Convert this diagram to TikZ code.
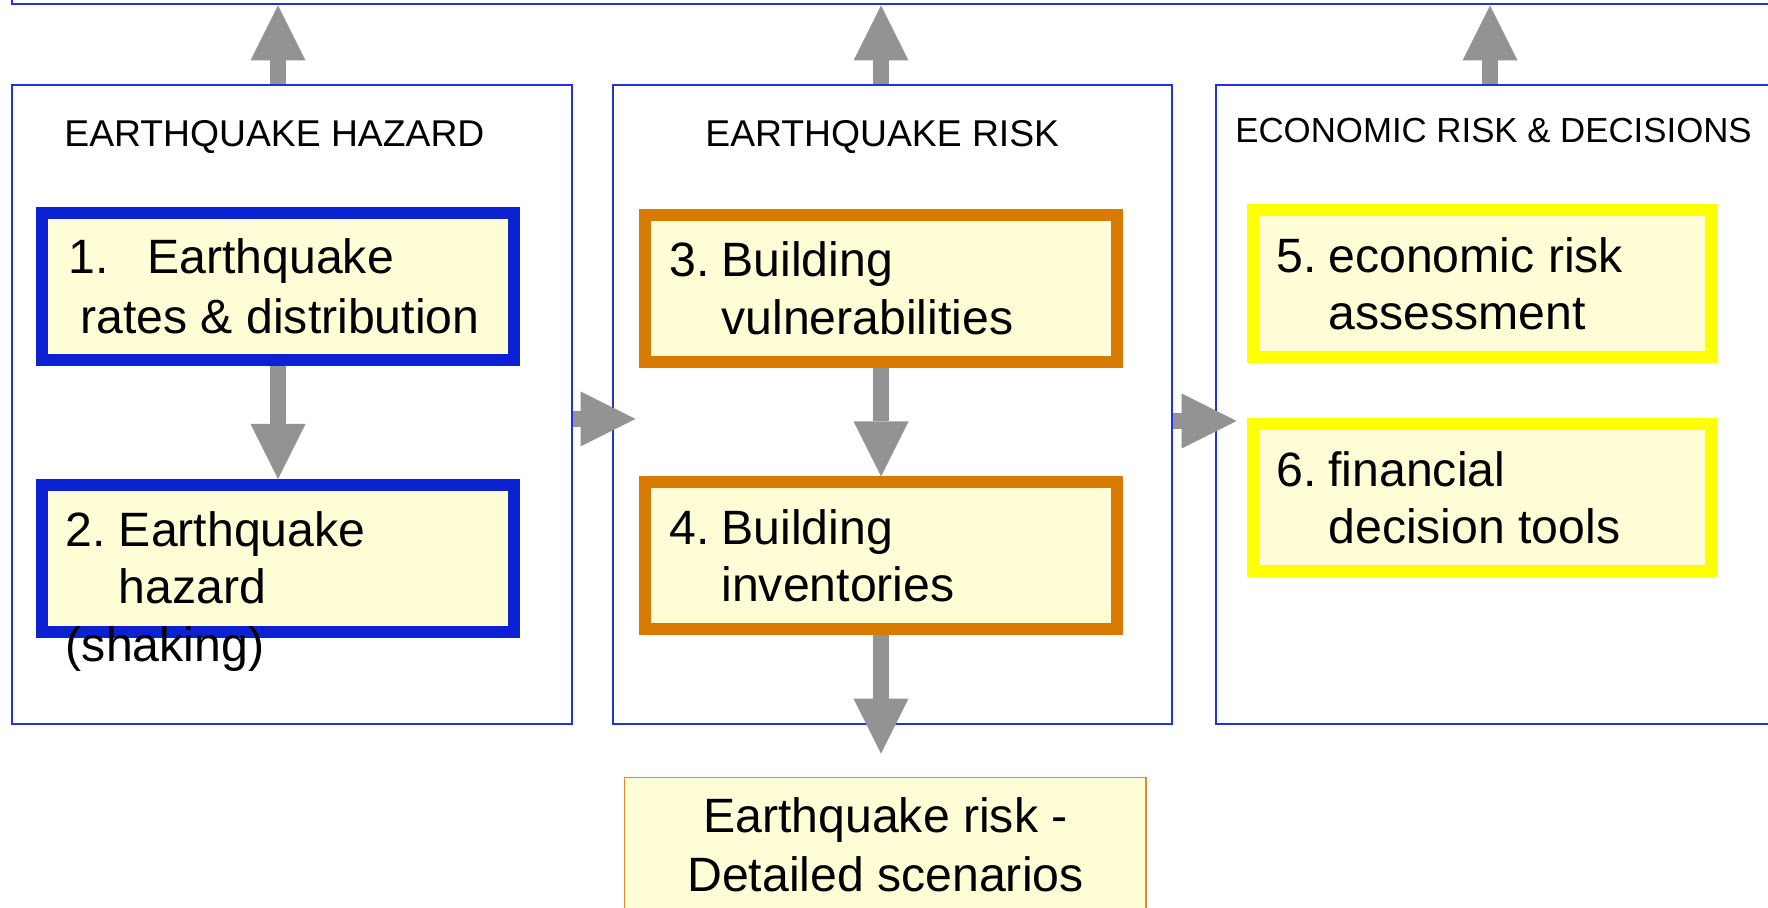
\documentclass[tikz,border=0pt]{standalone}
\usepackage{fontspec}
\setmainfont{Liberation Sans}
\usetikzlibrary{arrows.meta}
\definecolor{panelblue}{RGB}{30,50,230}
\definecolor{boxblue}{RGB}{10,34,210}
\definecolor{boxorange}{RGB}{215,122,0}
\definecolor{boxyellow}{RGB}{255,255,0}
\definecolor{boxfill}{RGB}{255,253,214}
\definecolor{arrgray}{RGB}{147,147,147}
\definecolor{scenorange}{RGB}{225,140,40}
\tikzset{
  panel/.style={draw=panelblue, line width=1pt, fill=white, inner sep=0pt, rectangle},
  stepbox/.style={line width=6pt, fill=boxfill, inner sep=0pt, rectangle,
    minimum width=236pt, minimum height=73.5pt},
  hazbox/.style={stepbox, draw=boxblue},
  riskbox/.style={stepbox, draw=boxorange},
  econbox/.style={stepbox, draw=boxyellow, minimum width=229pt},
  scenbox/.style={draw=scenorange, line width=0.8pt, fill=boxfill, inner sep=0pt, rectangle},
  boxtext/.style={anchor=base west, inner sep=0pt, font=\fontsize{24.1pt}{29pt}\selectfont},
  ctrtext/.style={anchor=base, inner sep=0pt, font=\fontsize{24.1pt}{29pt}\selectfont},
  titletext/.style={anchor=base west, inner sep=0pt, font=\fontsize{18.65pt}{22pt}\selectfont},
  garrow/.style={draw=arrgray, line width=8pt,
    -{Triangle[width=27.5pt,length=27.5pt,line width=0pt]}},
}
\begin{document}
\begin{tikzpicture}[x=0.5pt,y=-0.5pt]
\useasboundingbox (0,0) rectangle (1768,908);
\clip (0,0) rectangle (1768,908);
\fill[white] (0,0) rectangle (1768,908);

% top box (runs off the picture)
\node[panel, minimum width=944pt, minimum height=32.25pt] (top) at (955.75,-27.75) {};

% panels
\node[panel, minimum width=280pt, minimum height=319.5pt] (pH) at (291.5,405) {};
\node[panel, minimum width=279.75pt, minimum height=319.5pt] (pR) at (892.25,405) {};
\node[panel, minimum width=342pt, minimum height=319.5pt] (pE) at (1558,405) {};

% titles
\node[titletext] (tH) at (64,147) {EARTHQUAKE HAZARD};
\node[titletext] (tR) at (705,147) {EARTHQUAKE RISK};
\node[titletext, font=\fontsize{17.4pt}{21pt}\selectfont] (tE) at (1235,143) {ECONOMIC RISK \& DECISIONS};

% step boxes
\node[hazbox] (b1) at (278,286.5) {};
\node[hazbox] (b2) at (278,558.5) {};
\node[riskbox] (b3) at (881,289) {};
\node[riskbox] (b4) at (881,556) {};
\node[econbox] (b5) at (1482,284) {};
\node[econbox] (b6) at (1482,498) {};

% bottom scenario box (runs off the picture)
\node[scenbox, minimum width=260.75pt, minimum height=111.25pt] (scen) at (885.25,888.75) {};

% box texts
\node[boxtext] (b1n) at (68,274) {1.};
\node[boxtext] (b1a) at (147,274) {Earthquake};
\node[boxtext] (b1b) at (80,334) {rates \& distribution};

\node[boxtext] (b2n) at (65.5,547) {2.};
\node[boxtext] (b2a) at (118.5,547) {Earthquake};
\node[boxtext] (b2b) at (118.5,604) {hazard};
\node[boxtext] (b2c) at (65.5,662) {(shaking)};

\node[boxtext] (b3n) at (669,277) {3.};
\node[boxtext] (b3a) at (721,277) {Building};
\node[boxtext] (b3b) at (721,335) {vulnerabilities};

\node[boxtext] (b4n) at (669,545) {4.};
\node[boxtext] (b4a) at (721,545) {Building};
\node[boxtext] (b4b) at (721,602) {inventories};

\node[boxtext] (b5n) at (1276,273) {5.};
\node[boxtext] (b5a) at (1328,273) {economic risk};
\node[boxtext] (b5b) at (1328,330) {assessment};

\node[boxtext] (b6n) at (1276,487) {6.};
\node[boxtext] (b6a) at (1328,487) {financial};
\node[boxtext] (b6b) at (1328,544) {decision tools};

\node[ctrtext] (s1) at (885.5,833) {Earthquake risk -};
\node[ctrtext] (s2) at (885.5,892) {Detailed scenarios};

% arrows
\draw[garrow] (b1.north |- pH.north) -- (b1.north |- top.south);
\draw[garrow] (b3.north |- pR.north) -- (b3.north |- top.south);
\draw[garrow] ([xshift=4pt]b5.north |- pE.north) -- ([xshift=4pt]b5.north |- top.south);
\draw[garrow] (b1.south) -- (b2.north);
\draw[garrow] (b3.south) -- (b4.north);
\draw[garrow, shorten >=11.5pt] (b4.south) -- (b4.south |- scen.north);
\draw[garrow] ([yshift=-7pt]pH.east) -- ([yshift=-7pt,xshift=12pt]pR.west);
\draw[garrow] ([yshift=-8pt]pR.east) -- ([yshift=-8pt,xshift=10.75pt]pE.west);
\end{tikzpicture}
\end{document}
